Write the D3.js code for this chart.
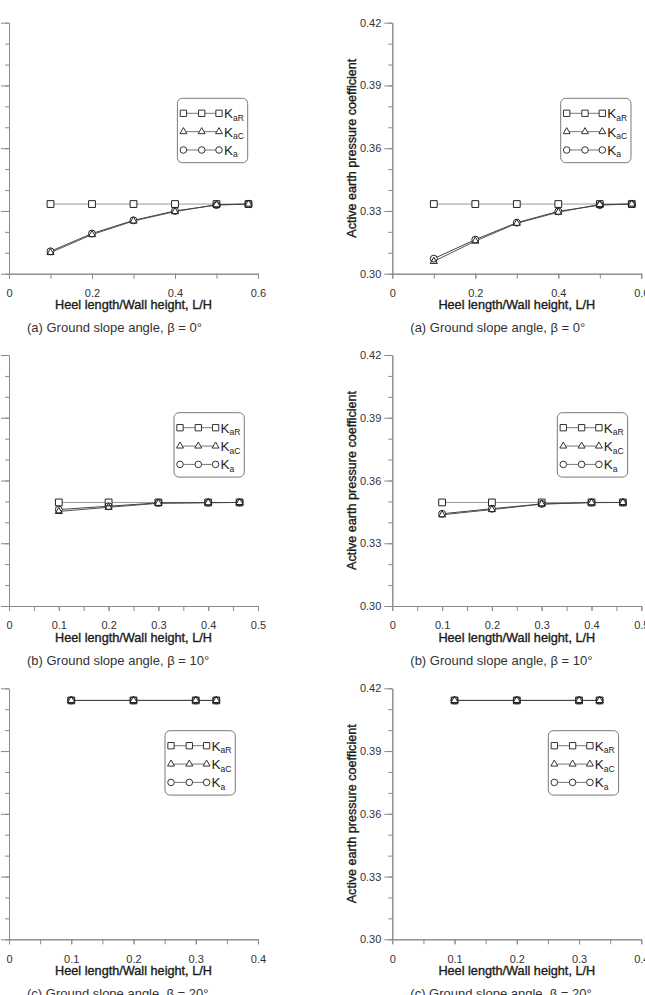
<!DOCTYPE html>
<html>
<head>
<meta charset="utf-8">
<script src="https://cdn.jsdelivr.net/npm/d3@7"></script>
<style>
  body { margin: 0; background: #fff; }
  svg { display: block; font-family: "Liberation Sans", Arial, sans-serif; }
</style>
</head>
<body>
<script>
// L/H values used in each ground slope case
var lhA = [0.1, 0.2, 0.3, 0.4, 0.5, 0.577];
var lhB = [0.1, 0.2, 0.3, 0.4, 0.463];
var lhC = [0.1, 0.2, 0.3, 0.333];

// Rankine coefficient (same in both columns)
var kaRA = [0.3333, 0.3333, 0.3333, 0.3333, 0.3333, 0.3333];
var kaRB = [0.3495, 0.3495, 0.3495, 0.3495, 0.3495];
var kaRC = [0.4142, 0.4142, 0.4142, 0.4142];

// left column
var leftKaCA = [0.3101, 0.3187, 0.3252, 0.3297, 0.3330, 0.3333];
var leftKaA  = [0.3107, 0.3192, 0.3255, 0.3300, 0.3328, 0.3333];
var leftKaCB = [0.3452, 0.3472, 0.3491, 0.3494, 0.3495];
var leftKaB  = [0.3461, 0.3477, 0.3493, 0.3494, 0.3495];
var leftKaCC = [0.4142, 0.4142, 0.4142, 0.4142];
var leftKaC  = [0.4142, 0.4142, 0.4142, 0.4142];

// right column
var rightKaCA = [0.3059, 0.3156, 0.3241, 0.3294, 0.3331, 0.3333];
var rightKaA  = [0.3072, 0.3163, 0.3244, 0.3298, 0.3328, 0.3333];
var rightKaCB = [0.3436, 0.3461, 0.3487, 0.3494, 0.3495];
var rightKaB  = [0.3441, 0.3465, 0.3488, 0.3495, 0.3495];
var rightKaCC = [0.4142, 0.4142, 0.4142, 0.4142];
var rightKaC  = [0.4142, 0.4142, 0.4142, 0.4142];

// tick labels
var yTickLabels = [0.30, 0.33, 0.36, 0.39, 0.42];
var xTickLabelsA = [0, 0.2, 0.4, 0.6];
var xTickLabelsB = [0, 0.1, 0.2, 0.3, 0.4, 0.5];
var xTickLabelsC = [0, 0.1, 0.2, 0.3, 0.4];

var captions = [
    "(a) Ground slope angle, \u03b2 = 0\u00b0",
    "(b) Ground slope angle, \u03b2 = 10\u00b0",
    "(c) Ground slope angle, \u03b2 = 20\u00b0"
];

// layout
var w = 645, h = 995;
var colX = [9, 392.3];
var rowTop = [22.7, 355, 688.3];
var plotW = 249, plotH = 251;
var xMax = [0.6, 0.5, 0.4];
var xMinorStep = [0.1, 0.05, 0.05];
var legendPos = [[168.4, 75.6], [165, 57.7], [156, 42.4]];

var lhs = [lhA, lhB, lhC];
var kaRs = [kaRA, kaRB, kaRC];
var kaCs = [[leftKaCA, leftKaCB, leftKaCC], [rightKaCA, rightKaCB, rightKaCC]];
var kas = [[leftKaA, leftKaB, leftKaC], [rightKaA, rightKaB, rightKaC]];
var xLabels = [xTickLabelsA, xTickLabelsB, xTickLabelsC];

var svg = d3.select("body").append("svg")
    .attr("width", w)
    .attr("height", h);

var symSquare = d3.symbol().type(d3.symbolSquare).size(46);
var symTri = d3.symbol().type(d3.symbolTriangle).size(22);
var symCircle = d3.symbol().type(d3.symbolCircle).size(38);

function styleAxis(g) {
    g.selectAll("path, line").attr("stroke", "#8a8a8a").attr("stroke-width", 1);
    g.selectAll("text").attr("fill", "#333").attr("font-size", 11).attr("font-family", "Liberation Sans, Arial, sans-serif");
}

function drawPanel(col, row) {
    var x0 = colX[col], top = rowTop[row];
    var g = svg.append("g").attr("transform", "translate(" + x0 + "," + top + ")");

    var x = d3.scaleLinear().domain([0, xMax[row]]).range([0, plotW]);
    var y = d3.scaleLinear().domain([0.30, 0.42]).range([plotH, 0]);

    // y axis: minor then major (left column is cropped, its labels fall off the page)
    var yMinor = d3.range(0, 13).map(function (i) { return 0.30 + i * 0.01; });
    g.append("g")
        .call(d3.axisLeft(y).tickValues(yMinor).tickSize(4).tickSizeOuter(0).tickFormat(""))
        .call(styleAxis);
    g.append("g")
        .call(d3.axisLeft(y).tickValues(yTickLabels).tickSize(8).tickSizeOuter(0)
            .tickPadding(3).tickFormat(col === 0 ? "" : d3.format(".2f")))
        .call(styleAxis);

    // x axis
    var nMinor = Math.round(xMax[row] / xMinorStep[row]);
    var xMinor = d3.range(0, nMinor + 1).map(function (i) { return i * xMinorStep[row]; });
    g.append("g")
        .attr("transform", "translate(0," + plotH + ")")
        .call(d3.axisBottom(x).tickValues(xMinor).tickSize(5).tickSizeOuter(0).tickFormat(""))
        .call(styleAxis);
    g.append("g")
        .attr("transform", "translate(0," + plotH + ")")
        .call(d3.axisBottom(x).tickValues(xLabels[row]).tickSize(5).tickSizeOuter(0)
            .tickPadding(10.5).tickFormat(function (d) { return d === 0 ? "0" : d3.format(".1f")(d); }))
        .call(styleAxis);

    // titles
    g.append("text")
        .attr("x", plotW / 2)
        .attr("y", plotH + 35.5)
        .attr("text-anchor", "middle")
        .attr("font-size", 12.7)
        .attr("fill", "#1a1a1a")
        .attr("stroke", "#1a1a1a")
        .attr("stroke-width", 0.35)
        .text("Heel length/Wall height, L/H");

    if (col === 1) {
        g.append("text")
            .attr("transform", "translate(-36.6," + (plotH / 2) + ") rotate(-90)")
            .attr("text-anchor", "middle")
            .attr("font-size", 12.6)
            .attr("fill", "#1a1a1a")
            .attr("stroke", "#1a1a1a")
            .attr("stroke-width", 0.35)
            .text("Active earth pressure coefficient");
    }

    g.append("text")
        .attr("x", 18)
        .attr("y", plotH + 58.5)
        .attr("font-size", 13)
        .attr("fill", "#333")
        .text(captions[row]);

    // series
    var xs = lhs[row];
    var series = [
        { vals: kaRs[row], sym: symSquare, line: "#9a9a9a" },
        { vals: kaCs[col][row], sym: symTri, line: "#555" },
        { vals: kas[col][row], sym: symCircle, line: "#444" }
    ];

    var line = d3.line()
        .x(function (d) { return x(d[0]); })
        .y(function (d) { return y(d[1]); });

    series.forEach(function (s) {
        g.append("path")
            .datum(d3.zip(xs, s.vals))
            .attr("d", line)
            .attr("fill", "none")
            .attr("stroke", s.line)
            .attr("stroke-width", 1);
    });

    // knock out lines behind markers, then draw outlines
    ["#fff", "none"].forEach(function (fill) {
        series.forEach(function (s) {
            g.append("g").selectAll("path")
                .data(d3.zip(xs, s.vals))
                .enter()
                .append("path")
                .attr("transform", function (d) { return "translate(" + x(d[0]) + "," + y(d[1]) + ")"; })
                .attr("d", s.sym)
                .attr("fill", fill)
                .attr("stroke", fill === "none" ? "#222" : "none")
                .attr("stroke-width", 1);
        });
    });

    // legend
    var lg = g.append("g").attr("transform", "translate(" + legendPos[row][0] + "," + legendPos[row][1] + ")");
    lg.append("rect")
        .attr("width", 70.3).attr("height", 64.4)
        .attr("rx", 5).attr("ry", 5)
        .attr("fill", "#fff")
        .attr("stroke", "#7a7a7a")
        .attr("stroke-width", 1);

    var legendItems = [
        { type: d3.symbolSquare, size: 40, sub: "aR" },
        { type: d3.symbolTriangle, size: 21, sub: "aC" },
        { type: d3.symbolCircle, size: 34, sub: "a" }
    ];
    var markX = [6, 24.3, 41.6];
    legendItems.forEach(function (item, i) {
        var cy = 15 + i * 18.35;
        lg.append("line")
            .attr("x1", markX[0]).attr("x2", markX[2])
            .attr("y1", cy).attr("y2", cy)
            .attr("stroke", "#777").attr("stroke-width", 1);
        lg.selectAll(null)
            .data(markX)
            .enter()
            .append("path")
            .attr("transform", function (d) { return "translate(" + d + "," + cy + ")"; })
            .attr("d", d3.symbol().type(item.type).size(item.size))
            .attr("fill", "#fff")
            .attr("stroke", "#333")
            .attr("stroke-width", 1);
        var t = lg.append("text")
            .attr("x", 46.5)
            .attr("y", cy + 5)
            .attr("font-size", 13.5)
            .attr("fill", "#222")
            .text("K");
        t.append("tspan")
            .attr("font-size", 8.5)
            .attr("dy", 2.5)
            .text(item.sub);
    });
}

[0, 1].forEach(function (col) {
    [0, 1, 2].forEach(function (row) {
        drawPanel(col, row);
    });
});
</script>
</body>
</html>
